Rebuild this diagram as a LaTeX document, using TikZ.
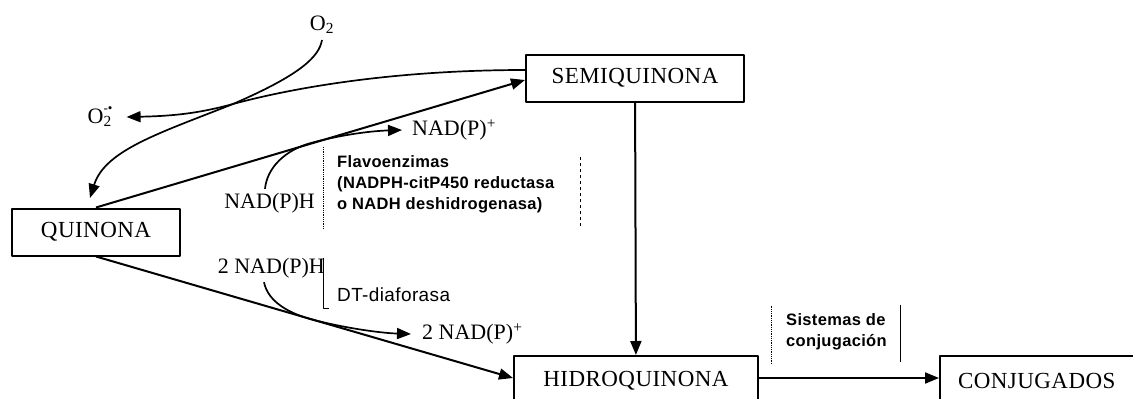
\documentclass[tikz,border=0pt]{standalone}
\usepackage{fontspec}
\setmainfont{Liberation Serif}
\newfontfamily\cajafont[LetterSpace=2]{Liberation Serif}
\newfontfamily\enzfont[LetterSpace=2]{Liberation Sans}
\usetikzlibrary{arrows.meta,calc}

\begin{document}
\begin{tikzpicture}[
    x=1pt,
    y=-1pt,
    >={Triangle[length=14pt,width=11pt]},
    line join=round,
    every node/.style={inner sep=0pt, font=\fontsize{22}{24}\selectfont},
    caja/.style={draw, line width=2pt, minimum height=47pt, font=\cajafont\fontsize{23}{25}\selectfont},
    flecha/.style={->, line width=2pt},
    rama/.style={->, line width=1.7pt},
    enzima/.style={anchor=west, align=left, font=\enzfont\bfseries\fontsize{16.5}{21}\selectfont},
    punteada/.style={densely dotted, line width=0.8pt},
    lateral/.style={line width=0.8pt}
]
\useasboundingbox (0,0) rectangle (1133,399);

\node[caja, minimum width=168pt] (quin)  at (96,232)  {QUINONA};
\node[caja, minimum width=218pt] (semi)  at (635,78)  {SEMIQUINONA};
\node[caja, minimum width=244pt, minimum height=50pt] (hidro) at (636,381) {HIDROQUINONA};
\node[caja, anchor=west, minimum height=50pt, text width=240pt, inner xsep=18pt, align=left] (conj) at (939,381) {CONJUGADOS};

\node (o2)  at (322,25)  {O\textsubscript{2}};
\node (rad) at (100,117) {O\rlap{\textsubscript{2}}\raisebox{11pt}{\fontsize{13}{13}\selectfont -•}};

\node[anchor=west] (nadp)   at (412,130) {NAD(P)\textsuperscript{+}};
\node[anchor=east] (nadph)  at (315,203) {NAD(P)H};
\node[anchor=east] (nadph2) at (325,268) {2 NAD(P)H};
\node[anchor=west] (nadp2)  at (422,334) {2 NAD(P)\textsuperscript{+}};

\node[enzima] (flavo) at (337,184) {Flavoenzimas\\(NADPH-citP450 reductasa\\o NADH deshidrogenasa)};
\node[anchor=west, font=\enzfont\fontsize{19}{21}\selectfont] (dt) at (337,295) {DT-diaforasa};
\node[enzima] (conjug) at (786,332) {Sistemas de\\conjugación};

\coordinate (entrada) at (90,198);
\coordinate (cruce)   at (233,104);
\coordinate (union1)  at (311,143);
\coordinate (union2)  at (314,320);

\draw[flecha] (quin.north) -- ([yshift=-2pt]semi.west);
\draw[flecha] (quin.south) -- ([yshift=3pt]hidro.west);
\draw[flecha] (semi) -- (hidro);
\draw[flecha] ([yshift=3pt]hidro.east) -- ([yshift=3pt]conj.west);

\draw[rama] ([yshift=-6pt]o2.south) .. controls +(-3,17) and (300,75) .. (cruce)
    .. controls (160,133) and (105,150) .. (entrada);
\draw[rama] ([yshift=8pt]semi.west) .. controls (400,70) and (300,86) .. (cruce)
    .. controls (200,113) and (175,116) .. ([xshift=14pt]rad.east);

\draw[rama] ([xshift=-50pt, yshift=4pt]nadph.north east) .. controls +(2,-21) and (285,150) .. (union1)
    .. controls (340,135) and (370,131) .. ([xshift=-10pt]nadp.west);
\draw[rama] ([xshift=-61pt, yshift=-4pt]nadph2.south east) .. controls +(4,20) and (290,314) .. (union2)
    .. controls (345,328) and (380,333) .. ([xshift=-11pt]nadp2.west);

\draw[punteada] ([xshift=-14pt, yshift=8pt]flavo.north west) -- ([xshift=-14pt, yshift=-16pt]flavo.south west);
\draw[lateral, dashed] ([xshift=26pt, yshift=-2pt]flavo.north east) -- ([xshift=26pt, yshift=-16pt]flavo.south east);
\draw[lateral] ([xshift=-14pt, yshift=30pt]dt.north west) -- ([xshift=-14pt, yshift=-6pt]dt.south west) -- ([xshift=-8pt, yshift=-6pt]dt.south west);
\draw[punteada] ([xshift=-15pt, yshift=8pt]conjug.north west) -- ([xshift=-15pt, yshift=-14pt]conjug.south west);
\draw[lateral] ([xshift=14pt, yshift=9pt]conjug.north east) -- ([xshift=14pt, yshift=-12pt]conjug.south east);

\end{tikzpicture}
\end{document}
